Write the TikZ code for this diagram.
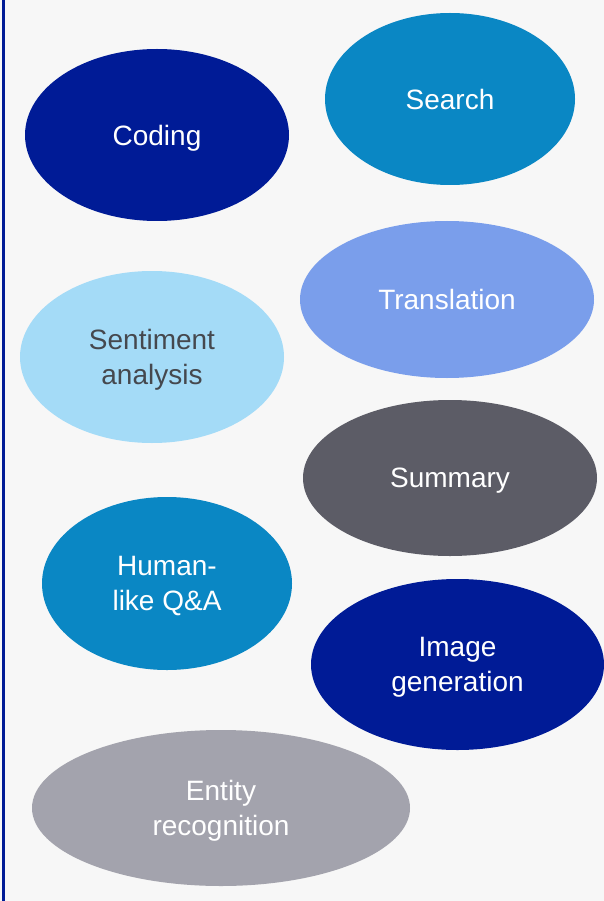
\documentclass[tikz,border=0pt]{standalone}
\usepackage{fontspec}
\setmainfont{Liberation Sans}
\usetikzlibrary{shapes.geometric}
\definecolor{bg}{HTML}{F7F7F7}
\definecolor{navy}{HTML}{001B96}
\definecolor{midblue}{HTML}{0A87C4}
\definecolor{periw}{HTML}{7A9EEB}
\definecolor{skyb}{HTML}{A4DBF7}
\definecolor{slate}{HTML}{5C5C66}
\definecolor{lgray}{HTML}{A3A3AD}
\definecolor{dtext}{HTML}{45484E}
\tikzset{
  blob/.style={ellipse, inner sep=0pt, outer sep=0pt, text=white, align=center,
    text depth=0pt, font=\fontsize{28}{35}\selectfont},
}
\begin{document}
\begin{tikzpicture}[x=1pt,y=-1pt]
\fill[bg] (0,0) rectangle (604,901);
\useasboundingbox (0,0) rectangle (604,901);
\fill[navy] (1.5,0) rectangle (5,901);
\node[blob, fill=navy, minimum width=264pt, minimum height=172pt] (coding) at (157,135) {Coding};
\node[blob, fill=midblue, minimum width=250pt, minimum height=172pt] (search) at (450,99) {Search};
\node[blob, fill=periw, minimum width=294pt, minimum height=157pt] (transl) at (447,299.5) {Translation};
\node[blob, fill=skyb, text=dtext, minimum width=264pt, minimum height=172pt] (senti) at (152,357) {Sentiment\\analysis};
\node[blob, fill=slate, minimum width=294pt, minimum height=156pt] (summ) at (450,478) {Summary};
\node[blob, fill=midblue, minimum width=250pt, minimum height=173pt] (human) at (167,583.5) {Human-\\like Q\&A};
\node[blob, fill=navy, minimum width=293pt, minimum height=171pt] (image) at (457.5,664.5) {Image\\generation};
\node[blob, fill=lgray, minimum width=378pt, minimum height=156pt] (entity) at (221,808) {Entity\\recognition};
\end{tikzpicture}
\end{document}
